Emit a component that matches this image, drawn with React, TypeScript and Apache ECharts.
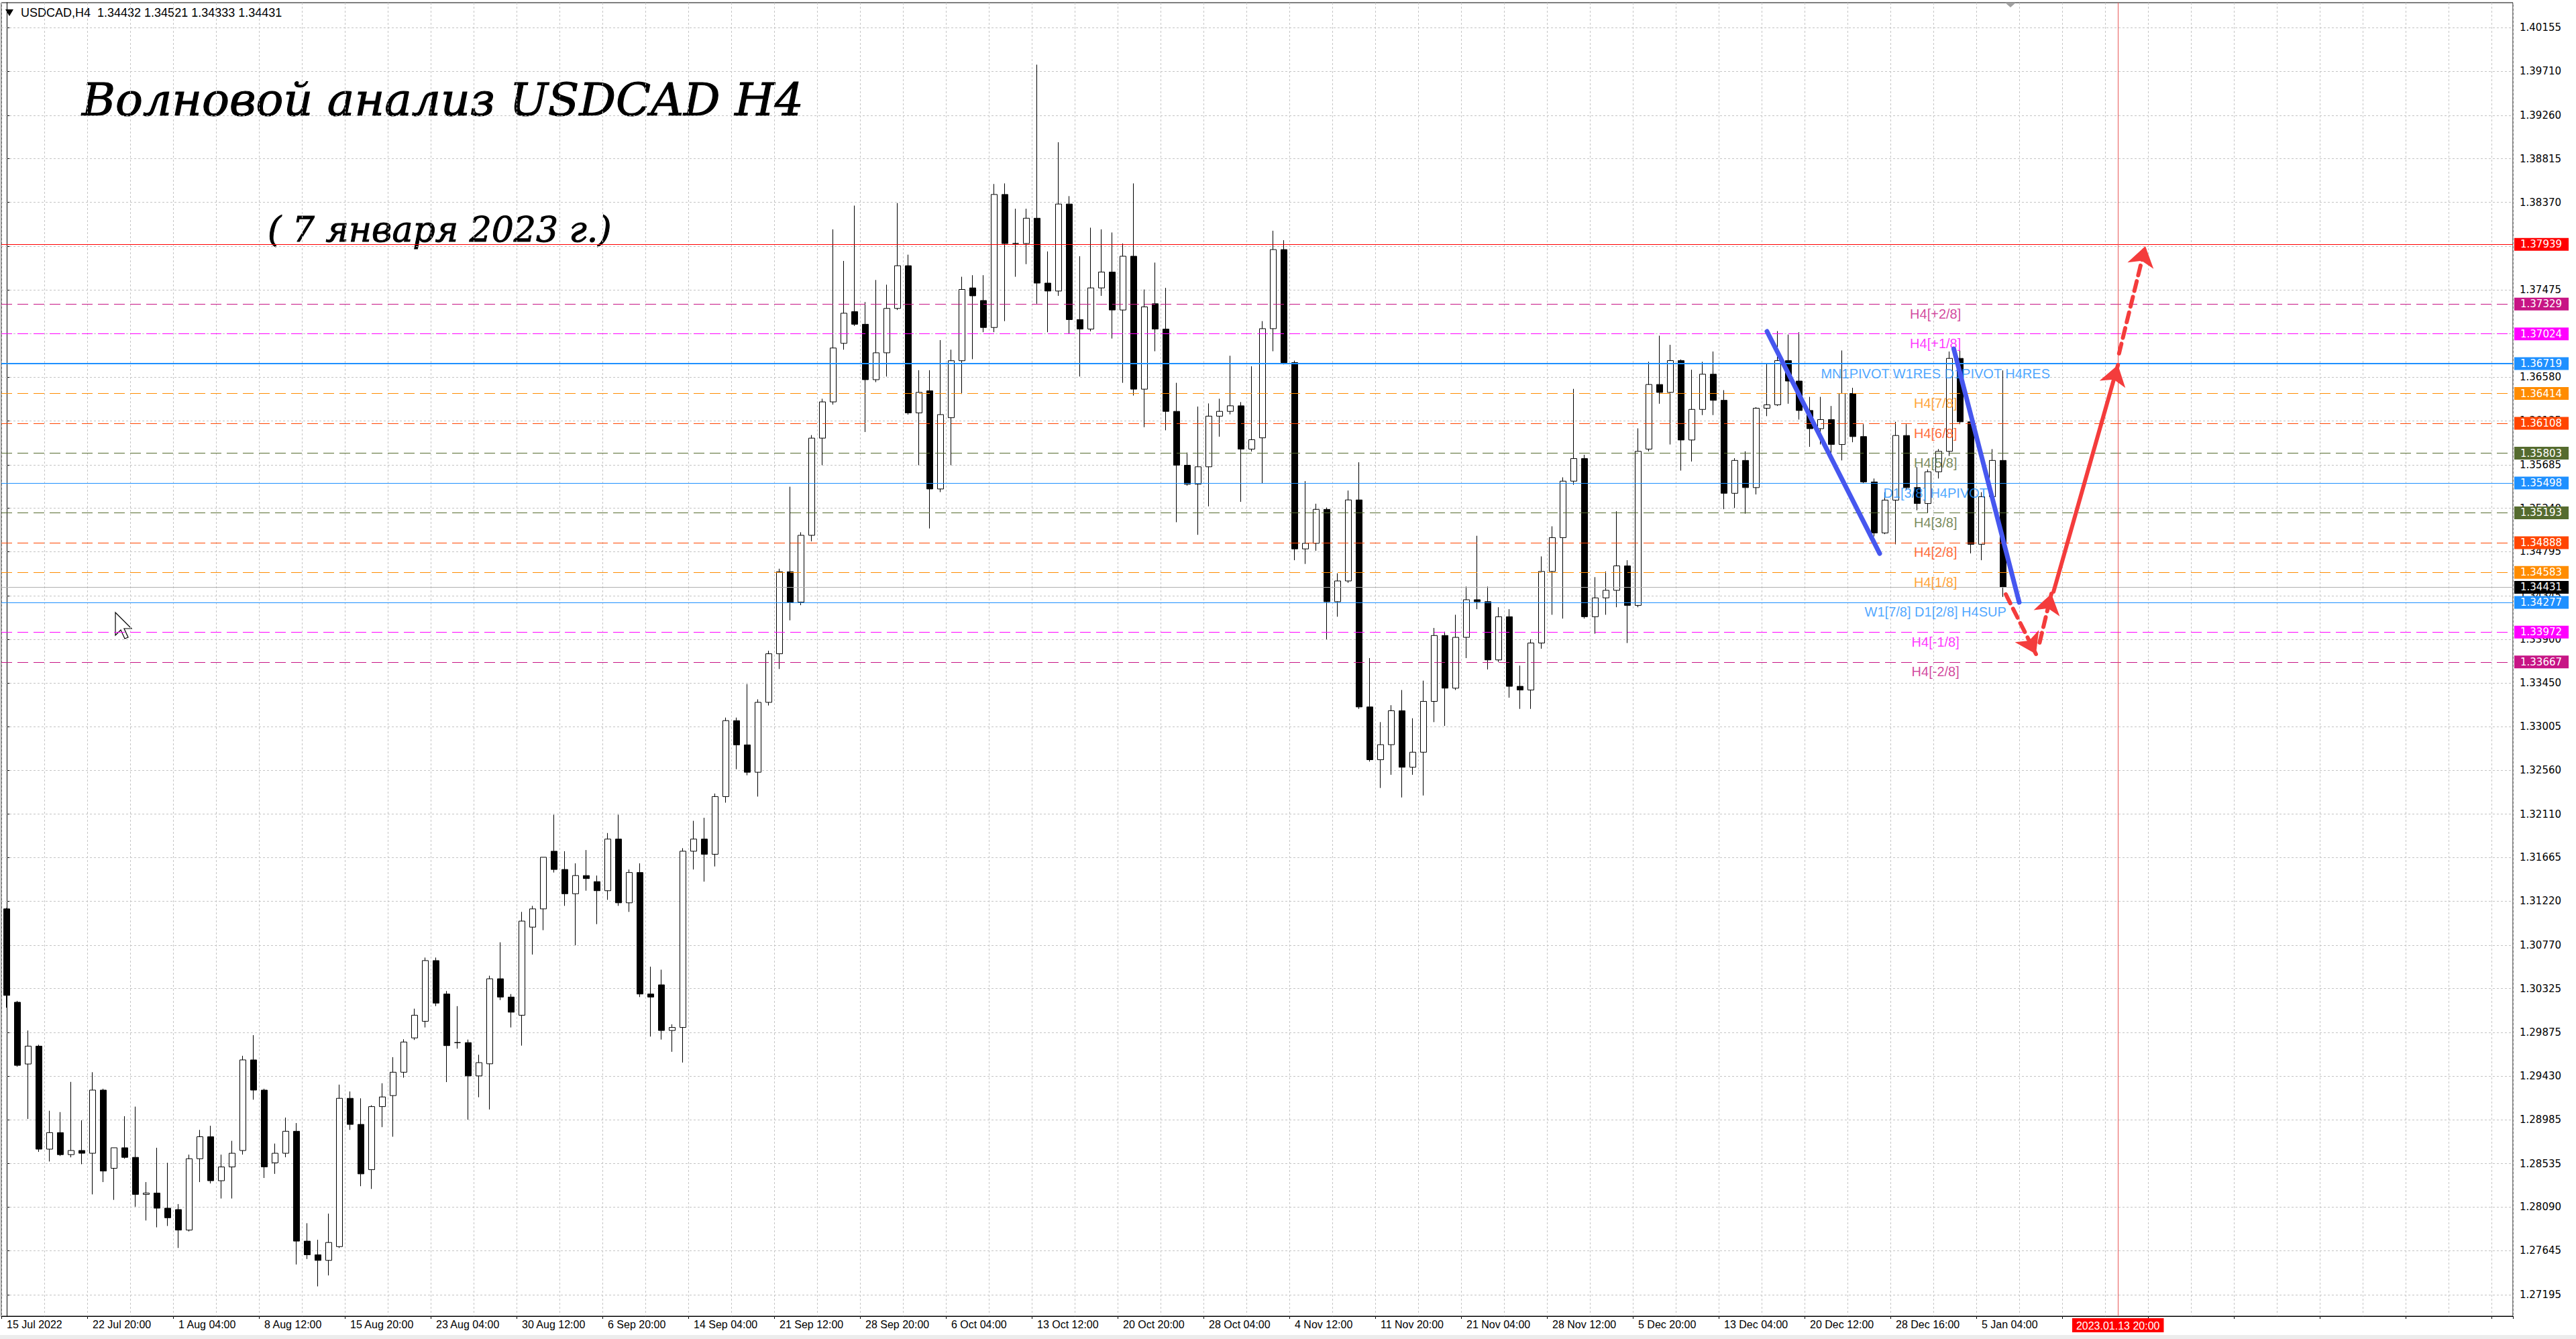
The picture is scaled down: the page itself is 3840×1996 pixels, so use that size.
import React, { useEffect, useRef } from 'react';
import * as echarts from 'echarts';

// ---- Data (each candle = 4 consecutive H4 bars) ----
const xLabels = ['15 Jul 2022', '22 Jul 20:00', '1 Aug 04:00', '8 Aug 12:00', '15 Aug 20:00', '23 Aug 04:00', '30 Aug 12:00', '6 Sep 20:00', '14 Sep 04:00', '21 Sep 12:00', '28 Sep 20:00', '6 Oct 04:00', '13 Oct 12:00', '20 Oct 20:00', '28 Oct 04:00', '4 Nov 12:00', '11 Nov 20:00', '21 Nov 04:00', '28 Nov 12:00', '5 Dec 20:00', '13 Dec 04:00', '20 Dec 12:00', '28 Dec 16:00', '5 Jan 04:00'];

const yTicks = [1.40155, 1.39710, 1.39260, 1.38815, 1.38370, 1.37920, 1.37475, 1.37030, 1.36580, 1.36135, 1.35685, 1.35240, 1.34795, 1.34345, 1.33900, 1.33450, 1.33005, 1.32560, 1.32110, 1.31665, 1.31220, 1.30770, 1.30325, 1.29875, 1.29430, 1.28985, 1.28535, 1.28090, 1.27645, 1.27195];

const opens = [1.31141, 1.30186, 1.29554, 1.29737, 1.28683, 1.28852, 1.28627, 1.28669, 1.28641, 1.29287, 1.28487, 1.28697, 1.28599, 1.28220, 1.28234, 1.28079, 1.28065, 1.27855, 1.28585, 1.28810, 1.28360, 1.28501, 1.28669, 1.29596, 1.29287, 1.28543, 1.28641, 1.28866, 1.27742, 1.27602, 1.27545, 1.27686, 1.29203, 1.28936, 1.28473, 1.29118, 1.29231, 1.29470, 1.29821, 1.29991, 1.30612, 1.30270, 1.29773, 1.29773, 1.29432, 1.29556, 1.30426, 1.30239, 1.30053, 1.30954, 1.31141, 1.31731, 1.31544, 1.31296, 1.31482, 1.31420, 1.31327, 1.31855, 1.31203, 1.31513, 1.30270, 1.30364, 1.29897, 1.29928, 1.31731, 1.31855, 1.31700, 1.32290, 1.33067, 1.32819, 1.32539, 1.33254, 1.33751, 1.34590, 1.34279, 1.34963, 1.35957, 1.36328, 1.36927, 1.37251, 1.37122, 1.36555, 1.36830, 1.37284, 1.37721, 1.36215, 1.36441, 1.35437, 1.36166, 1.36749, 1.37494, 1.37365, 1.37089, 1.38450, 1.37948, 1.37948, 1.38207, 1.37543, 1.37462, 1.38352, 1.37170, 1.37073, 1.37494, 1.37656, 1.37268, 1.37818, 1.36458, 1.37332, 1.37073, 1.36231, 1.35680, 1.35486, 1.35664, 1.36182, 1.36231, 1.36288, 1.35845, 1.35960, 1.37077, 1.37886, 1.36730, 1.34824, 1.34881, 1.35228, 1.34284, 1.34496, 1.35325, 1.33207, 1.32667, 1.32821, 1.33168, 1.32590, 1.32744, 1.33264, 1.33938, 1.33399, 1.33919, 1.34304, 1.34284, 1.33688, 1.34130, 1.33418, 1.33380, 1.33861, 1.34593, 1.34939, 1.35517, 1.35748, 1.34130, 1.34323, 1.34400, 1.34650, 1.34246, 1.35845, 1.36506, 1.36425, 1.36750, 1.35938, 1.36251, 1.36611, 1.36344, 1.35393, 1.35729, 1.35451, 1.36263, 1.36298, 1.36750, 1.36541, 1.36240, 1.36054, 1.36147, 1.35892, 1.36414, 1.35973, 1.35509, 1.34987, 1.35323, 1.35984, 1.35451, 1.35288, 1.35613, 1.35822, 1.36773, 1.36124, 1.34871, 1.35358, 1.35729];
const highs = [1.31150, 1.30200, 1.29897, 1.29751, 1.29076, 1.29062, 1.29371, 1.28978, 1.29470, 1.29301, 1.28697, 1.29020, 1.29118, 1.28346, 1.28697, 1.28543, 1.28121, 1.28627, 1.28880, 1.28922, 1.28627, 1.28768, 1.29638, 1.29849, 1.29301, 1.28740, 1.29006, 1.28950, 1.27925, 1.27756, 1.28023, 1.29343, 1.29273, 1.29203, 1.29132, 1.29357, 1.29624, 1.29807, 1.30120, 1.30643, 1.30643, 1.30301, 1.30146, 1.29804, 1.29649, 1.30457, 1.30799, 1.30270, 1.31110, 1.31172, 1.31669, 1.32104, 1.31731, 1.31607, 1.31743, 1.31482, 1.31917, 1.32104, 1.31544, 1.31607, 1.30550, 1.30519, 1.29960, 1.31762, 1.32042, 1.32073, 1.32321, 1.33098, 1.33098, 1.33440, 1.33285, 1.33782, 1.34621, 1.35460, 1.34994, 1.35988, 1.36360, 1.38093, 1.37770, 1.38336, 1.37349, 1.37575, 1.37527, 1.38362, 1.37834, 1.36652, 1.36652, 1.36960, 1.36862, 1.37608, 1.37624, 1.37624, 1.38557, 1.38563, 1.38304, 1.38304, 1.39778, 1.37867, 1.38984, 1.38433, 1.37818, 1.38110, 1.38093, 1.38061, 1.37948, 1.38563, 1.37478, 1.37753, 1.37494, 1.36523, 1.35810, 1.36280, 1.36312, 1.36360, 1.36800, 1.36326, 1.36692, 1.37154, 1.38079, 1.37982, 1.36750, 1.35517, 1.35286, 1.35247, 1.34574, 1.35421, 1.35710, 1.33707, 1.33052, 1.33225, 1.33380, 1.33091, 1.33476, 1.34015, 1.33977, 1.34150, 1.34439, 1.34958, 1.34439, 1.34227, 1.34207, 1.33630, 1.33899, 1.34747, 1.35055, 1.35556, 1.36461, 1.35787, 1.34535, 1.34593, 1.35209, 1.34708, 1.36057, 1.36738, 1.37005, 1.36912, 1.36762, 1.36657, 1.36738, 1.36843, 1.36448, 1.35752, 1.35822, 1.36274, 1.36715, 1.37052, 1.37017, 1.37040, 1.36379, 1.36379, 1.36286, 1.36854, 1.36472, 1.36100, 1.35544, 1.35404, 1.36124, 1.36100, 1.35660, 1.35637, 1.35845, 1.36843, 1.36854, 1.36147, 1.35404, 1.35845, 1.36650];
const lows = [1.30130, 1.29526, 1.28992, 1.28655, 1.28557, 1.28613, 1.28599, 1.28529, 1.28220, 1.28346, 1.28164, 1.28585, 1.28094, 1.27953, 1.27883, 1.27897, 1.27672, 1.27841, 1.28346, 1.28332, 1.28178, 1.28178, 1.28627, 1.29189, 1.28388, 1.28430, 1.28600, 1.27503, 1.27559, 1.27279, 1.27391, 1.27672, 1.28880, 1.28304, 1.28276, 1.28908, 1.28810, 1.29414, 1.29800, 1.29928, 1.30146, 1.29369, 1.29711, 1.28984, 1.29214, 1.29089, 1.30208, 1.29928, 1.29742, 1.30674, 1.30923, 1.31513, 1.31172, 1.30768, 1.31327, 1.30985, 1.31234, 1.31172, 1.31110, 1.30239, 1.29835, 1.29804, 1.29679, 1.29569, 1.31544, 1.31420, 1.31575, 1.32228, 1.32570, 1.32508, 1.32290, 1.33222, 1.33595, 1.34093, 1.34248, 1.34901, 1.35680, 1.36300, 1.36862, 1.37105, 1.36020, 1.36530, 1.36587, 1.37268, 1.36198, 1.35680, 1.35033, 1.35405, 1.35680, 1.36409, 1.36765, 1.37041, 1.37041, 1.37154, 1.37608, 1.37737, 1.37332, 1.37041, 1.37413, 1.37025, 1.36587, 1.37050, 1.37413, 1.36976, 1.36523, 1.36393, 1.36069, 1.36846, 1.36037, 1.35097, 1.35470, 1.34968, 1.35259, 1.35972, 1.36200, 1.35305, 1.35820, 1.35498, 1.36846, 1.36711, 1.34708, 1.34670, 1.34805, 1.33899, 1.34130, 1.34477, 1.33187, 1.32648, 1.32378, 1.32513, 1.32281, 1.32513, 1.32301, 1.33052, 1.33013, 1.33380, 1.33707, 1.34207, 1.33591, 1.33668, 1.33302, 1.33187, 1.33187, 1.33803, 1.34150, 1.34111, 1.35480, 1.34111, 1.33957, 1.34150, 1.34227, 1.33861, 1.34227, 1.35822, 1.36309, 1.35892, 1.35625, 1.35718, 1.36193, 1.36193, 1.35230, 1.35242, 1.35184, 1.35381, 1.36182, 1.36286, 1.36309, 1.36147, 1.35868, 1.35892, 1.35776, 1.35729, 1.35915, 1.35497, 1.34952, 1.34975, 1.34871, 1.35428, 1.35219, 1.35196, 1.35544, 1.35775, 1.36100, 1.34778, 1.34708, 1.35335, 1.34333];
const closes = [1.30256, 1.29540, 1.29737, 1.28683, 1.28852, 1.28627, 1.28669, 1.28641, 1.29287, 1.28459, 1.28697, 1.28599, 1.28220, 1.28234, 1.28079, 1.27981, 1.27855, 1.28585, 1.28810, 1.28360, 1.28501, 1.28641, 1.29596, 1.29287, 1.28501, 1.28641, 1.28866, 1.27742, 1.27602, 1.27545, 1.27728, 1.29203, 1.28936, 1.28430, 1.29118, 1.29217, 1.29470, 1.29779, 1.30053, 1.30612, 1.30177, 1.29742, 1.29773, 1.29432, 1.29568, 1.30426, 1.30239, 1.30084, 1.31016, 1.31141, 1.31669, 1.31544, 1.31296, 1.31482, 1.31451, 1.31327, 1.31855, 1.31203, 1.31513, 1.30270, 1.30239, 1.29897, 1.29928, 1.31731, 1.31855, 1.31700, 1.32290, 1.33067, 1.32819, 1.32539, 1.33254, 1.33751, 1.34590, 1.34279, 1.34963, 1.35957, 1.36328, 1.36879, 1.37235, 1.37122, 1.36555, 1.36830, 1.37284, 1.37721, 1.36215, 1.36425, 1.35437, 1.36198, 1.36749, 1.37478, 1.37413, 1.37089, 1.38450, 1.37948, 1.37948, 1.38207, 1.37543, 1.37462, 1.38352, 1.37170, 1.37073, 1.37494, 1.37656, 1.37268, 1.37818, 1.36458, 1.37300, 1.37073, 1.36231, 1.35680, 1.35486, 1.35664, 1.36182, 1.36231, 1.36288, 1.35845, 1.35941, 1.37077, 1.37886, 1.36730, 1.34824, 1.34881, 1.35228, 1.34284, 1.34496, 1.35325, 1.33207, 1.32667, 1.32821, 1.33168, 1.32590, 1.32744, 1.33264, 1.33938, 1.33399, 1.33919, 1.34304, 1.34284, 1.33688, 1.34130, 1.33418, 1.33380, 1.33861, 1.34593, 1.34939, 1.35517, 1.35748, 1.34130, 1.34323, 1.34400, 1.34650, 1.34246, 1.35822, 1.36506, 1.36425, 1.36750, 1.35938, 1.36251, 1.36611, 1.36344, 1.35393, 1.35729, 1.35451, 1.36263, 1.36298, 1.36750, 1.36541, 1.36240, 1.36054, 1.36147, 1.35892, 1.36414, 1.35973, 1.35509, 1.34987, 1.35323, 1.35984, 1.35451, 1.35288, 1.35613, 1.35822, 1.36773, 1.36124, 1.34871, 1.35358, 1.35729, 1.34431];

const levelPrices = [1.37939, 1.37329, 1.37024, 1.36719, 1.36414, 1.36108, 1.35803, 1.35498, 1.35193, 1.34888, 1.34583, 1.34431, 1.34277, 1.33972, 1.33667];
const levelNames = ['', 'H4[+2/8]', 'H4[+1/8]', 'MN1PIVOT W1RES D1PIVOT H4RES', 'H4[7/8]', 'H4[6/8]', 'H4[5/8]', 'D1[3/8] H4PIVOT', 'H4[3/8]', 'H4[2/8]', 'H4[1/8]', '', 'W1[7/8] D1[2/8] H4SUP', 'H4[-1/8]', 'H4[-2/8]'];

// hand-drawn annotations: [slot, price]
const trendLine1 = [[164.0, 1.37049], [174.5, 1.34777]];
const trendLine2 = [[181.4, 1.36871], [187.5, 1.34277]];
const forecastDown = [[186.25, 1.34359], [189.06, 1.33748]];
const forecastBounce = [[189.4, 1.33865], [190.5, 1.34366]];
const forecastUp = [[190.7, 1.34386], [196.7, 1.36706]];
const forecastUp2 = [[196.8, 1.36823], [199.25, 1.37921]];
const timeMarker = { slot: 196.7, text: '2023.01.13 20:00' };
const header = 'USDCAD,H4  1.34432 1.34521 1.34333 1.34431';
const title = 'Волновой анализ USDCAD H4';
const subtitle = '( 7 января 2023 г.)';

// ---- styles ----
const SLOTS = 234;
const LABEL_X = 179.7;
const DASH = [16, 8];
const levelStyle = [
  { c: '#ff0000', t: 'solid', w: 1 },
  { c: '#c71585', t: 'dash', w: 1 },
  { c: '#ff00ff', t: 'dash', w: 1 },
  { c: '#1e90ff', t: 'solid', w: 2 },
  { c: '#ff8c00', t: 'dash', w: 1 },
  { c: '#ff4500', t: 'dash', w: 1 },
  { c: '#556b2f', t: 'dash', w: 1 },
  { c: '#1e90ff', t: 'solid', w: 1 },
  { c: '#556b2f', t: 'dash', w: 1 },
  { c: '#ff4500', t: 'dash', w: 1 },
  { c: '#ff8c00', t: 'dash', w: 1 },
  { c: '#b0b0b0', t: 'solid', w: 1, box: '#000000' },
  { c: '#1e90ff', t: 'solid', w: 1 },
  { c: '#ff00ff', t: 'dash', w: 1 },
  { c: '#c71585', t: 'dash', w: 1 },
];

function buildOption() {
  const categories = Array.from({ length: SLOTS }, (_, i) => String(i));
  const candles = opens.map((o, i) => [o, closes[i], lows[i], highs[i]]);

  const levelLines = levelPrices.map((p, i) => {
    const s = levelStyle[i];
    return {
      yAxis: p,
      lineStyle: { color: s.c, width: s.w, type: s.t === 'dash' ? DASH : 'solid' },
      label: {
        show: true,
        position: 'end',
        distance: 2,
        formatter: p.toFixed(5),
        backgroundColor: s.box || s.c,
        color: '#ffffff',
        fontFamily: 'DejaVu Sans',
        fontSize: 15,
        lineHeight: 16,
        padding: [2, 10, 1, 9],
      },
    };
  });

  const levelText = levelPrices
    .map((p, i) => ({ p, i }))
    .filter((d) => levelNames[d.i])
    .map((d) => ({
      name: levelNames[d.i],
      value: [LABEL_X, d.p],
      label: { color: levelStyle[d.i].c },
    }));

  const seg = (pts: number[][], color: string, width: number, dashed: boolean, arrow: boolean) => [
    {
      coord: pts[0],
      symbol: 'none',
      lineStyle: { color, width, type: dashed ? [15, 9] : 'solid', cap: 'round' },
      label: { show: false },
    },
    { coord: pts[1], symbol: arrow ? 'arrow' : 'none', symbolSize: arrow ? 30 : 0 },
  ];

  const RED = '#f43c3c';
  const BLUE = '#4657ef';

  return {
    animation: false,
    backgroundColor: '#ffffff',
    grid: { left: 2, right: 94, top: 4, bottom: 34, show: true, borderColor: '#000', borderWidth: 1, backgroundColor: 'transparent' },
    xAxis: [
      {
        type: 'category',
        data: categories,
        boundaryGap: true,
        axisLine: { show: true, lineStyle: { color: '#000', width: 1 } },
        axisTick: { show: true, interval: 7, length: 4, lineStyle: { color: '#000' } },
        axisLabel: {
          interval: 7,
          align: 'left',
          margin: 4,
          fontSize: 16,
          fontFamily: 'Liberation Sans',
          color: '#000',
          formatter: (v: string) => {
            const i = Number(v);
            if (i % 8 !== 0) return '';
            return xLabels[i / 8] || '';
          },
        },
        splitLine: { show: true, interval: 3, lineStyle: { color: '#c4c4c4', type: [3, 3], width: 1 } },
      },
      { type: 'value', min: -0.5, max: SLOTS - 0.5, show: false },
    ],
    yAxis: {
      type: 'value',
      position: 'right',
      min: 1.26974,
      max: 1.40412,
      axisLine: { show: true, lineStyle: { color: '#000' } },
      axisTick: { show: true, customValues: yTicks, length: 5, lineStyle: { color: '#000' } },
      axisLabel: {
        customValues: yTicks,
        formatter: (v: number) => v.toFixed(5),
        fontFamily: 'DejaVu Sans',
        fontSize: 15,
        color: '#000',
        margin: 10,
      },
      splitLine: { show: false },
    },
    series: [
      {
        type: 'line',
        name: 'grid',
        data: [],
        xAxisIndex: 1,
        z: 1,
        silent: true,
        markLine: {
          silent: true,
          precision: 6,
          symbol: ['none', 'none'],
          z: 1,
          label: { show: false },
          lineStyle: { color: '#c4c4c4', type: [3, 3], width: 1 },
          data: yTicks.map((v) => ({ yAxis: v })),
        },
      },
      {
        type: 'candlestick',
        name: 'USDCAD',
        data: candles,
        barWidth: 10,
        z: 3,
        itemStyle: { color: '#ffffff', color0: '#000000', borderColor: '#000000', borderColor0: '#000000', borderWidth: 1 },
      },
      {
        type: 'line',
        name: 'levels',
        data: [],
        xAxisIndex: 1,
        z: 4,
        silent: true,
        markLine: { silent: true, precision: 6, symbol: ['none', 'none'], z: 4, data: levelLines },
      },
      {
        type: 'scatter',
        name: 'levelText',
        xAxisIndex: 1,
        symbolSize: 1,
        itemStyle: { color: 'rgba(0,0,0,0)' },
        z: 5,
        silent: true,
        label: { show: true, position: 'bottom', distance: 4, formatter: '{b}', fontSize: 20, fontFamily: 'Liberation Sans' },
        labelLayout: { hideOverlap: false },
        data: levelText,
      },
      {
        type: 'line',
        name: 'drawings',
        data: [],
        xAxisIndex: 1,
        z: 6,
        silent: true,
        markLine: {
          silent: true,
          precision: 6,
          z: 6,
          symbol: ['none', 'none'],
          data: [
            {
              xAxis: timeMarker.slot,
              symbol: 'none',
              lineStyle: { color: '#e85a5a', width: 1, type: 'solid' },
              label: {
                show: true,
                position: 'start',
                distance: 3,
                formatter: timeMarker.text,
                backgroundColor: '#ff0000',
                color: '#ffffff',
                fontFamily: 'Liberation Sans',
                fontSize: 16,
                padding: [3, 6, 2, 6],
              },
            },
            seg(trendLine1, BLUE, 7, false, false),
            seg(trendLine2, BLUE, 7, false, false),
            seg(forecastDown, RED, 6, true, true),
            seg(forecastBounce, RED, 6, true, true),
            seg(forecastUp, RED, 6, false, true),
            seg(forecastUp2, RED, 6, true, true),
          ],
        },
      },
    ],
    graphic: [
      { type: 'rect', shape: { x: 0, y: 1990, width: 3840, height: 6 }, style: { fill: '#ececec' }, silent: true },
      { type: 'polygon', shape: { points: [[2989, 4], [3005, 4], [2997, 11]] }, style: { fill: '#a0a0a0' }, silent: true },
      { type: 'polygon', shape: { points: [[8, 14], [20, 14], [14, 24]] }, style: { fill: '#000' }, silent: true },
      { type: 'text', x: 31, y: 19, style: { text: header, fill: '#000', font: '18px "Liberation Sans"', verticalAlign: 'middle', align: 'left' }, silent: true },
      {
        type: 'text', x: 122, y: 148, silent: true,
        style: {
          text: title, fill: '#000', font: 'italic 68px "DejaVu Serif"', verticalAlign: 'middle', align: 'left',
          stroke: '#000', lineWidth: 1.2,
          shadowColor: 'rgba(0,0,0,0.55)', shadowBlur: 5, shadowOffsetX: 5, shadowOffsetY: 7,
        },
      },
      {
        type: 'text', x: 399, y: 342, silent: true,
        style: {
          text: subtitle, fill: '#000', font: 'italic 52px "DejaVu Serif"', verticalAlign: 'middle', align: 'left',
          stroke: '#000', lineWidth: 1,
          shadowColor: 'rgba(0,0,0,0.55)', shadowBlur: 5, shadowOffsetX: 5, shadowOffsetY: 7,
        },
      },
      {
        type: 'polygon', silent: true,
        shape: { points: [[172, 913], [172, 947], [180, 939], [186, 952], [191, 950], [185, 937], [196, 937]] },
        style: { fill: '#ffffff', stroke: '#000', lineWidth: 1.2 },
      },
    ],
  };
}

export default function App() {
  const ref = useRef<HTMLDivElement>(null);
  useEffect(() => {
    if (!ref.current) return;
    const chart = echarts.init(ref.current, null, { renderer: 'svg' });
    chart.setOption(buildOption() as any);
    return () => chart.dispose();
  }, []);
  return (
    <div
      ref={ref}
      style={{ position: 'absolute', left: 0, top: 0, width: 3840, height: 1996, background: '#ffffff' }}
    />
  );
}
